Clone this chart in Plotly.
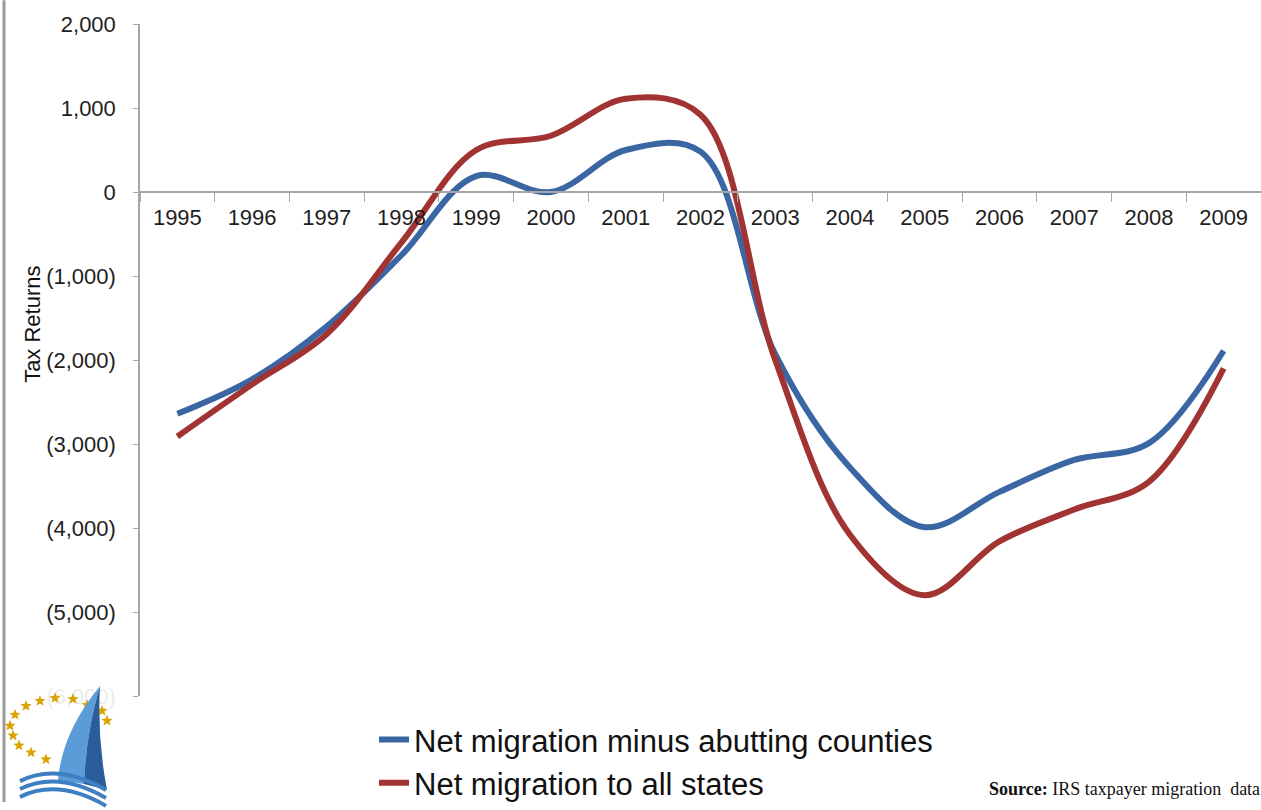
import math
import plotly.graph_objects as go

years = ["1995", "1996", "1997", "1998", "1999", "2000", "2001", "2002",
         "2003", "2004", "2005", "2006", "2007", "2008", "2009"]
minus_abutting = [-2640, -2230, -1600, -750, 190, 0, 500, 480,
                  -1930, -3280, -3990, -3570, -3190, -2990, -1890]
all_states = [-2910, -2290, -1690, -600, 500, 670, 1110, 920,
              -2000, -4080, -4800, -4160, -3780, -3450, -2100]
y_tickvals = [2000, 1000, 0, -1000, -2000, -3000, -4000, -5000, -6000]
y_ticktext = ["2,000", "1,000", "0", "(1,000)", "(2,000)", "(3,000)",
              "(4,000)", "(5,000)", "<span style='color:#ececec'>(6,000)</span>"]

W, H = 1261, 810
PL, PR, PT, PB = 140, 1261, 24, 703


def px(x):
    return (x - PL) / (PR - PL)


def py(y):
    return (PB - y) / (PB - PT)


def pt(x, y):
    return f"{px(x):.5f},{py(y):.5f}"


fig = go.Figure()
fig.add_trace(go.Scatter(x=years, y=minus_abutting, mode="lines",
                         name="Net migration minus abutting counties",
                         line=dict(color="#3a67a3", width=6, shape="spline", smoothing=1.0)))
fig.add_trace(go.Scatter(x=years, y=all_states, mode="lines",
                         name="Net migration to all states",
                         line=dict(color="#a23333", width=6, shape="spline", smoothing=1.0)))

axis_col = "#a6a6a6"
fig.update_layout(
    width=W, height=H,
    margin=dict(l=PL, r=W - PR, t=PT, b=H - PB),
    paper_bgcolor="white", plot_bgcolor="white",
    font=dict(family="Liberation Sans, Arial, sans-serif", size=22, color="#1e1e1e"),
    showlegend=True,
    legend=dict(orientation="v", x=px(374), xanchor="left", y=py(720), yanchor="top",
                font=dict(size=31, color="#111"), bgcolor="rgba(0,0,0,0)",
                tracegroupgap=0, itemwidth=30),
    xaxis=dict(type="category", anchor="free", position=0.75, showline=True,
               linecolor=axis_col, linewidth=1.5, ticks="outside", tickson="boundaries",
               ticklen=9, tickcolor=axis_col, showgrid=False, zeroline=False,
               range=[-0.5, 14.5], tickfont=dict(size=22), ticklabelstandoff=6),
    yaxis=dict(range=[-6000, 2000], tickvals=y_tickvals, ticktext=y_ticktext,
               showline=True, linecolor=axis_col, linewidth=1.5, ticks="outside",
               ticklen=5, tickcolor=axis_col, showgrid=False, zeroline=False,
               ticklabelstandoff=13, tickfont=dict(size=22)),
)

annotations = [
    dict(text="Tax Returns", textangle=-90, x=px(33), y=py(328), xref="paper", yref="paper",
         showarrow=False, font=dict(size=22, color="#111"), xanchor="center", yanchor="middle"),
    dict(text="<b>Source:</b> IRS taxpayer migration  data", x=px(1262), y=py(797),
         xref="paper", yref="paper", showarrow=False, xanchor="right", yanchor="middle",
         font=dict(family="Liberation Serif, Times New Roman, serif", size=18, color="#111")),
]
fig.update_layout(annotations=annotations)


def star_path(cx, cy, r):
    parts = []
    for k in range(10):
        ang = -math.pi / 2 + k * math.pi / 5
        rr = r if k % 2 == 0 else r * 0.42
        parts.append(pt(cx + rr * math.cos(ang), cy + rr * math.sin(ang)))
    return "M" + " L".join(parts) + " Z"


shapes = [
    # left frame border
    dict(type="line", xref="paper", yref="paper", x0=px(4), x1=px(4), y0=py(0), y1=py(810),
         line=dict(color="#9a9a9a", width=3)),
]
stars = [(55, 705), (73, 706), (40, 708), (26, 713), (15, 722), (10, 733), (13, 743),
         (19, 753), (31, 760), (46, 767), (87, 712), (102, 718), (107, 728)]
for sx, sy in stars:
    shapes.append(dict(type="path", xref="paper", yref="paper", path=star_path(sx, sy, 6),
                       fillcolor="#d9a300", line=dict(width=0)))
shapes += [
    # sail, light part
    dict(type="path", xref="paper", yref="paper",
         path=f"M{pt(100,693)} Q{pt(62,740)} {pt(58,788)} L{pt(84,792)} Q{pt(86,740)} {pt(100,693)} Z",
         fillcolor="#5b9bd8", line=dict(width=0)),
    # sail, dark part
    dict(type="path", xref="paper", yref="paper",
         path=f"M{pt(100,693)} Q{pt(86,740)} {pt(84,792)} L{pt(107,798)} Q{pt(97,745)} {pt(100,693)} Z",
         fillcolor="#2b5d9a", line=dict(width=0)),
]
for dy in (0, 8, 16):
    shapes.append(dict(type="path", xref="paper", yref="paper",
                       path=f"M{pt(20, 789 + dy)} Q{pt(58, 770 + dy)} {pt(106, 798 + dy)}",
                       line=dict(color="#3d7fc2", width=4)))
fig.update_layout(shapes=shapes)

fig.write_html("out.html", config={"displayModeBar": False},
               post_script="document.body.style.margin='0';document.body.style.overflow='hidden';")
